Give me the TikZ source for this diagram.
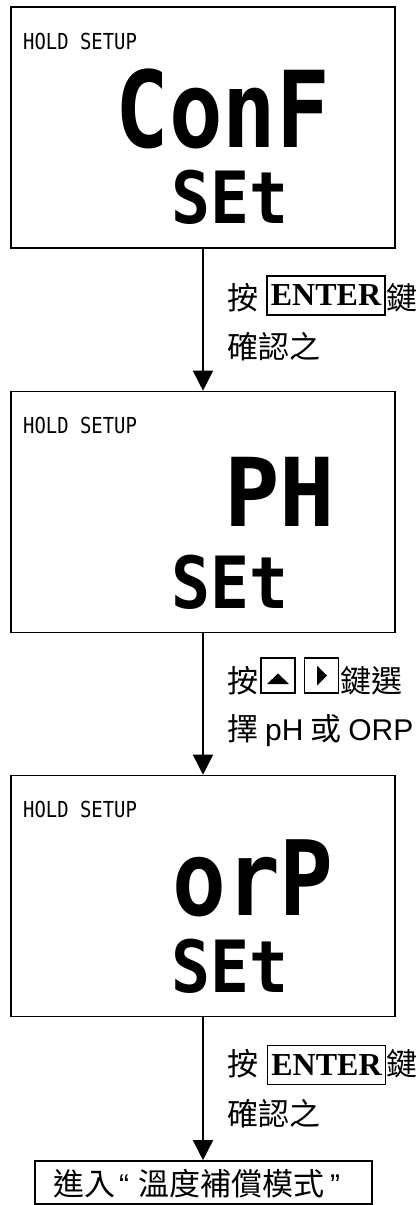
\documentclass[tikz,border=0pt]{standalone}
\usepackage{graphicx}
\usepackage{fontspec}
\usetikzlibrary{arrows.meta}
\newfontfamily\cjk{Noto Sans CJK TC}
\newfontfamily\lat{Liberation Sans}
\newfontfamily\ser{Liberation Serif}
\newfontfamily\monof{DejaVu Sans Mono}
\newcommand\lcdtext[3]{\scalebox{#2}[1]{\fontsize{#1}{#1}\monof\bfseries #3}}
\newcommand\holdtext{\scalebox{0.9}[1.05]{\fontsize{21pt}{21pt}\monof HOLD SETUP}}
\newcommand\latin{\lat\fontsize{30pt}{30pt}\selectfont}
\begin{document}
\begin{tikzpicture}[x=1pt,y=-1pt,
  screen/.style={draw, line width=1.6pt, minimum width=384pt, minimum height=241pt, inner sep=0pt},
  hold/.style={anchor=base west, inner sep=0pt},
  lcd/.style={anchor=base, inner sep=0pt},
  cjkt/.style={anchor=base west, inner sep=0pt, font=\cjk\fontsize{31pt}{31pt}\selectfont},
  enterkey/.style={draw, line width=1.6pt, inner sep=0pt, minimum width=118pt, minimum height=39pt, font=\ser\bfseries\fontsize{32pt}{32pt}\selectfont},
  arrowkey/.style={draw, line width=1.6pt, inner sep=0pt, minimum width=34pt, minimum height=35pt},
  flow/.style={-{Triangle[width=20pt,length=20pt]}, line width=1.6pt}]
\useasboundingbox (0,0) rectangle (420,1205);

% screens
\node[screen] (b1) at (203,127.5) {};
\node[screen] (b2) at (203,512) {};
\node[screen] (b3) at (203,896) {};
\node[draw, line width=1.6pt, minimum width=337pt, minimum height=43pt, inner sep=0pt] (b4) at (203.5,1182.5) {};

% screen texts
\node[hold] (h1) at (23,49) {\holdtext};
\node[hold] (h2) at (23,433) {\holdtext};
\node[hold] (h3) at (23,817) {\holdtext};

\node[lcd] (conf) at (223,147) {\lcdtext{106pt}{0.84}{ConF}};
\node[lcd] (ph) at (280,526) {\lcdtext{95pt}{0.97}{PH}};
\node[lcd] (orp) at (253,915) {\lcdtext{104pt}{0.86}{orP}};
\node[lcd] (set1) at (230,223) {\lcdtext{72pt}{0.9}{SEt}};
\node[lcd] (set2) at (230,608) {\lcdtext{72pt}{0.9}{SEt}};
\node[lcd] (set3) at (230,992) {\lcdtext{72pt}{0.9}{SEt}};

% connectors
\draw[flow] (b1.south) -- (b2.north);
\draw[flow] (b2.south) -- (b3.north);
\draw[flow] (b3.south) -- (b3.south |- b4.north);

% label 1
\node[cjkt] (l1a) at (227,309) {按};
\node[enterkey] (e1) at (326,295.5) {ENTER};
\node[cjkt] (l1c) at (386,309) {鍵};
\node[cjkt] (l1d) at (227,358) {確認之};

% label 2
\node[cjkt] (l2a) at (227,692) {按};
\node[arrowkey] (k1) at (278,675.5) {};
\node[arrowkey] (k2) at (321.5,675.5) {};
\fill (267,684) -- (289,684) -- (278,673.5) -- cycle;
\fill (317,665.5) -- (317,685.5) -- (327,675.5) -- cycle;
\node[cjkt] (l2c) at (340,692) {鍵選};
\node[cjkt] (l2d) at (227,740) {擇 {\latin pH} 或 {\latin ORP}};

% label 3
\node[cjkt] (l3a) at (227,1075) {按};
\node[enterkey] (e3) at (326.5,1065) {ENTER};
\node[cjkt] (l3c) at (386,1075) {鍵};
\node[cjkt] (l3d) at (227,1125) {確認之};

% final box text
\node[cjkt] (t4) at (53,1195) {進入{\latin\hspace{4pt}“\hspace{9pt}}溫度補償模式{\latin\hspace{6pt}”}};
\end{tikzpicture}
\end{document}
